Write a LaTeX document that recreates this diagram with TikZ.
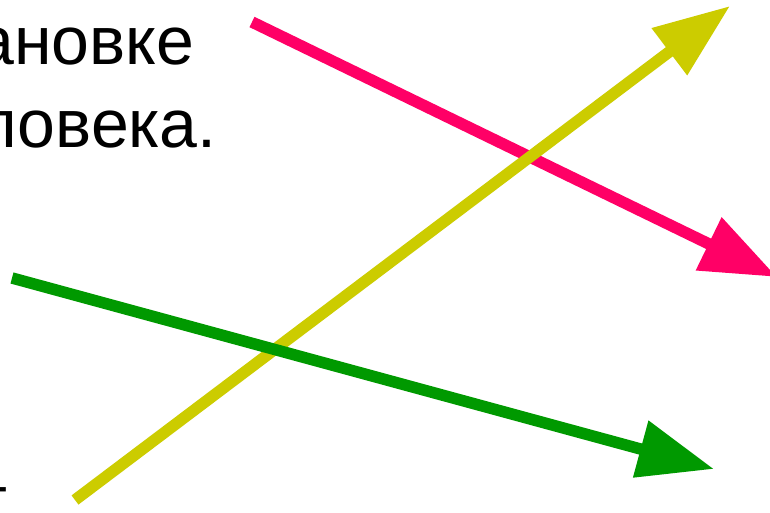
\documentclass[tikz,border=0pt]{standalone}
\usepackage{fontspec}
\setmainfont{Liberation Sans}
\usetikzlibrary{arrows.meta}
\definecolor{apink}{RGB}{255,0,102}
\definecolor{ayellow}{RGB}{204,204,0}
\definecolor{agreen}{RGB}{0,153,0}
\tikzset{
  txt/.style={anchor=base east, inner sep=0pt, font=\fontsize{68}{80}\selectfont},
  arr/.style={line width=11.5pt, line cap=butt, -{Triangle[length=76pt,width=56pt]}}
}
\begin{document}
\begin{tikzpicture}[x=1pt,y=-1pt]
\useasboundingbox (0,0) rectangle (770,513);
\clip (0,0) rectangle (770,513);
\fill[white] (0,0) rectangle (770,513);
\node[txt] (t1) at (194.5,65) {ановке};
\node[txt] (t2) at (217,148) {ловека.};
\node[txt] (t3) at (8.5,523) {г};
\coordinate (ps) at (252,22);
\coordinate (pe) at (777,277);
\coordinate (ys) at (75,500);
\coordinate (ye) at (730,6);
\coordinate (gs) at (12,278);
\coordinate (ge) at (714,469);
\draw[arr, apink] (ps) -- (pe);
\draw[arr, ayellow] (ys) -- (ye);
\draw[arr, agreen] (gs) -- (ge);
\end{tikzpicture}
\end{document}
